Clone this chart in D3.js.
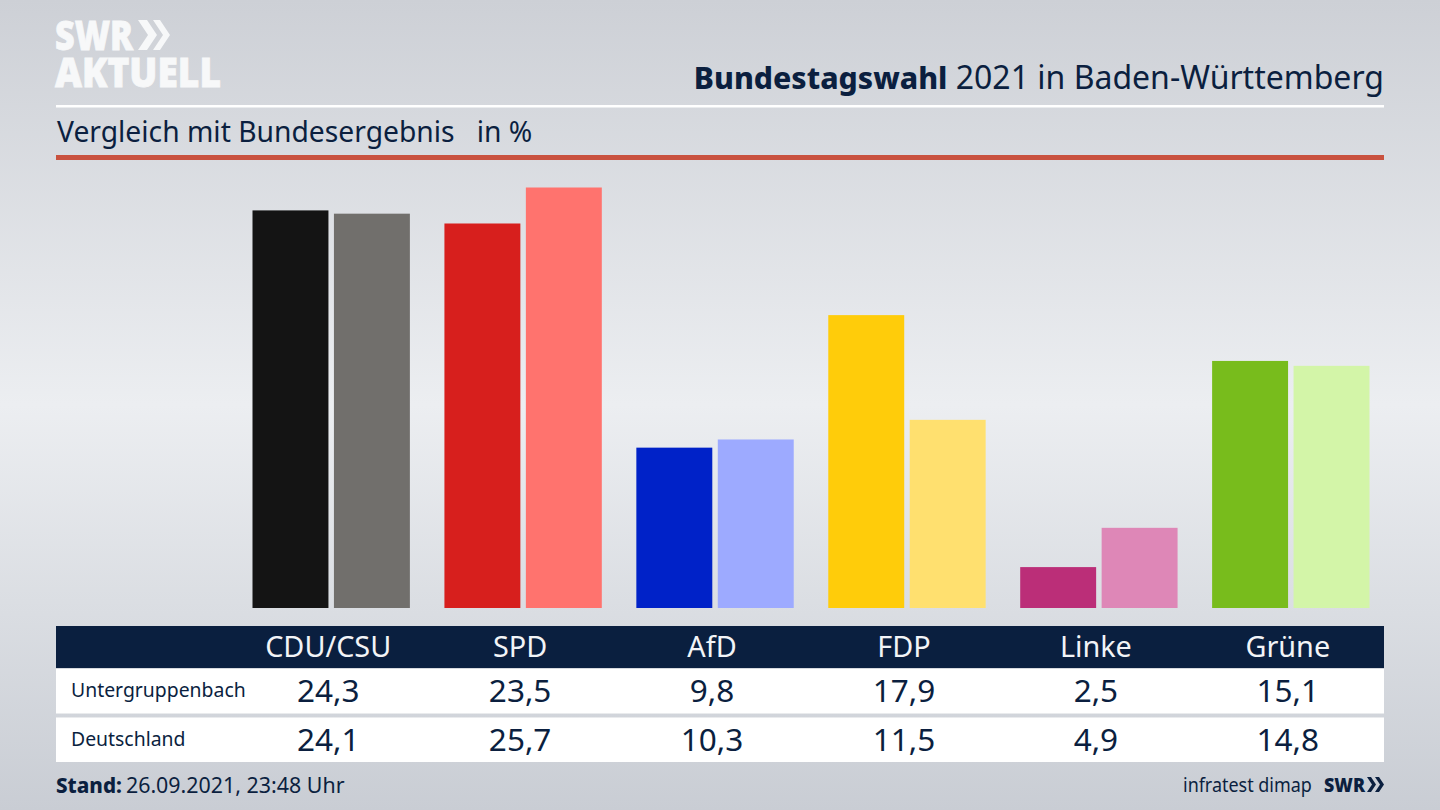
<!DOCTYPE html>
<html>
<head>
<meta charset="utf-8">
<script src="https://cdnjs.cloudflare.com/ajax/libs/d3/7.8.5/d3.min.js"></script>
<style>
  html, body { margin: 0; padding: 0; background: #d4d7dc; }
  svg { display: block; }
  text { font-family: "Noto Sans", sans-serif; fill: #0b1f3f; }
</style>
</head>
<body>
<div id="chart"></div>
<script>
// data
var parties = ["CDU/CSU", "SPD", "AfD", "FDP", "Linke", "Grüne"];
var regions = ["Untergruppenbach", "Deutschland"];
var regional = [24.3, 23.5, 9.8, 17.9, 2.5, 15.1];
var national = [24.1, 25.7, 10.3, 11.5, 4.9, 14.8];
var regionalLabels = ["24,3", "23,5", "9,8", "17,9", "2,5", "15,1"];
var nationalLabels = ["24,1", "25,7", "10,3", "11,5", "4,9", "14,8"];
var regionalColors = ["#141414", "#d71f1d", "#0022c8", "#ffcc0a", "#bb2e78", "#78bc1c"];
var nationalColors = ["#716f6c", "#ff736e", "#9daaff", "#ffe06f", "#de87b7", "#d3f5a8"];

var navy = "#0a1f3f";

var svg = d3.select("#chart")
  .append("svg")
  .attr("width", 1440)
  .attr("height", 810);

// background
var grad = svg.append("defs").append("linearGradient")
  .attr("id", "bg")
  .attr("x1", 0).attr("y1", 0).attr("x2", 0).attr("y2", 1);
grad.append("stop").attr("offset", "0%").attr("stop-color", "#cdd0d6");
grad.append("stop").attr("offset", "50%").attr("stop-color", "#eceef1");
grad.append("stop").attr("offset", "100%").attr("stop-color", "#c9cdd4");

svg.append("rect")
  .attr("width", 1440)
  .attr("height", 810)
  .attr("fill", "url(#bg)");

// logo
var logo = svg.append("g").attr("fill", "#f7f8f9");
logo.append("text")
  .style("fill", "#f7f8f9")
  .style("stroke", "#f7f8f9")
  .style("stroke-width", 0.8)
  .style("font-family", "'Open Sans', sans-serif")
  .style("font-weight", 800)
  .style("font-size", "40px")
  .call(function(t) {
    t.append("tspan").attr("x", 55).attr("y", 50)
      .attr("textLength", 78)
      .attr("lengthAdjust", "spacingAndGlyphs")
      .text("SWR");
    t.append("tspan").attr("x", 55).attr("y", 87)
      .attr("textLength", 166)
      .attr("lengthAdjust", "spacingAndGlyphs")
      .text("AKTUELL");
  });
logo.append("path").attr("d", "M138 20h9l10 15-10 15h-9l10-15z");
logo.append("path").attr("d", "M153 20h7l10 15-10 15h-7l10-15z");

// header
svg.append("text")
  .attr("x", 1384).attr("y", 89)
  .attr("text-anchor", "end")
  .call(function(t) {
    t.append("tspan").style("font-weight", 800).style("font-size", "30.2px").text("Bundestagswahl");
    t.append("tspan").style("font-size", "32px").text(" 2021 in Baden-Württemberg");
  });

svg.append("rect")
  .attr("x", 56).attr("y", 105)
  .attr("width", 1328).attr("height", 2.5)
  .attr("fill", "#ffffff");

svg.append("text")
  .attr("x", 57).attr("y", 142)
  .style("font-size", "28.25px")
  .attr("xml:space", "preserve")
  .style("white-space", "pre")
  .text("Vergleich mit Bundesergebnis   in %");

svg.append("rect")
  .attr("x", 56).attr("y", 155)
  .attr("width", 1328).attr("height", 5)
  .attr("fill", "#c9523f");

// scales
var x = d3.scaleBand()
  .domain(parties)
  .range([252.5, 1369.5])
  .paddingInner(0.18);

var xInner = d3.scaleBand()
  .domain(regions)
  .range([0, x.bandwidth()])
  .paddingInner(0.0675);

var y = d3.scaleLinear()
  .domain([0, 25.7])
  .range([608, 187.5]);

// bars
var series = [
  { name: regions[0], values: regional, colors: regionalColors, labels: regionalLabels },
  { name: regions[1], values: national, colors: nationalColors, labels: nationalLabels }
];

svg.selectAll("g.series")
  .data(series)
  .join("g")
  .attr("class", "series")
  .selectAll("rect")
  .data(function(s) {
    return s.values.map(function(v, i) {
      return { party: parties[i], value: v, color: s.colors[i], region: s.name };
    });
  })
  .join("rect")
  .attr("x", function(d) { return x(d.party) + xInner(d.region); })
  .attr("y", function(d) { return y(d.value); })
  .attr("width", xInner.bandwidth())
  .attr("height", function(d) { return y(0) - y(d.value); })
  .attr("fill", function(d) { return d.color; });

// table
function labelX(p) {
  return x(p) + x.bandwidth() / 2 - 3;
}

svg.append("rect")
  .attr("x", 56).attr("y", 626)
  .attr("width", 1328).attr("height", 42)
  .attr("fill", navy);

svg.selectAll("text.party")
  .data(parties)
  .join("text")
  .attr("class", "party")
  .attr("x", labelX)
  .attr("y", 657)
  .attr("text-anchor", "middle")
  .style("fill", "#f2f4f7")
  .style("font-size", "28.8px")
  .text(function(d) { return d; });

var rowY = d3.scaleBand()
  .domain(regions)
  .range([669, 762])
  .paddingInner(0.082);

var rows = svg.selectAll("g.row")
  .data(series)
  .join("g")
  .attr("class", "row")
  .attr("transform", function(d) { return "translate(0," + rowY(d.name) + ")"; });

rows.append("rect")
  .attr("x", 56)
  .attr("width", 1328)
  .attr("height", rowY.bandwidth())
  .attr("fill", "#ffffff");

rows.append("text")
  .attr("x", 71).attr("y", 28.4)
  .style("font-size", "19.4px")
  .text(function(d) { return d.name; });

rows.selectAll("text.value")
  .data(function(s) {
    return s.labels.map(function(l, i) { return { label: l, party: parties[i] }; });
  })
  .join("text")
  .attr("class", "value")
  .attr("x", function(d) { return labelX(d.party); })
  .attr("y", 33.4)
  .attr("text-anchor", "middle")
  .style("font-size", "31.5px")
  .text(function(d) { return d.label; });

// footer
svg.append("text")
  .attr("x", 56).attr("y", 793)
  .call(function(t) {
    t.append("tspan").style("font-weight", 800).style("font-size", "20.6px").text("Stand:");
    t.append("tspan").attr("dx", 4).style("font-size", "21.4px").text("26.09.2021, 23:48 Uhr");
  });

// condensed, like the original's footer type
svg.append("text")
  .attr("transform", "translate(1183,792) scale(0.875,1)")
  .style("font-size", "20.5px")
  .text("infratest dimap");

var swr = svg.append("g").attr("fill", navy);
swr.append("text")
  .attr("x", 1324).attr("y", 792)
  .style("font-family", "'Open Sans', sans-serif")
  .style("font-weight", 800)
  .style("font-size", "20px")
  .attr("textLength", 41)
  .attr("lengthAdjust", "spacingAndGlyphs")
  .text("SWR");
swr.append("path").attr("d", "M1367 777h4l5 7.5-5 7.5h-4l5-7.5z");
swr.append("path").attr("d", "M1375 777h4l5 7.5-5 7.5h-4l5-7.5z");
</script>
</body>
</html>
